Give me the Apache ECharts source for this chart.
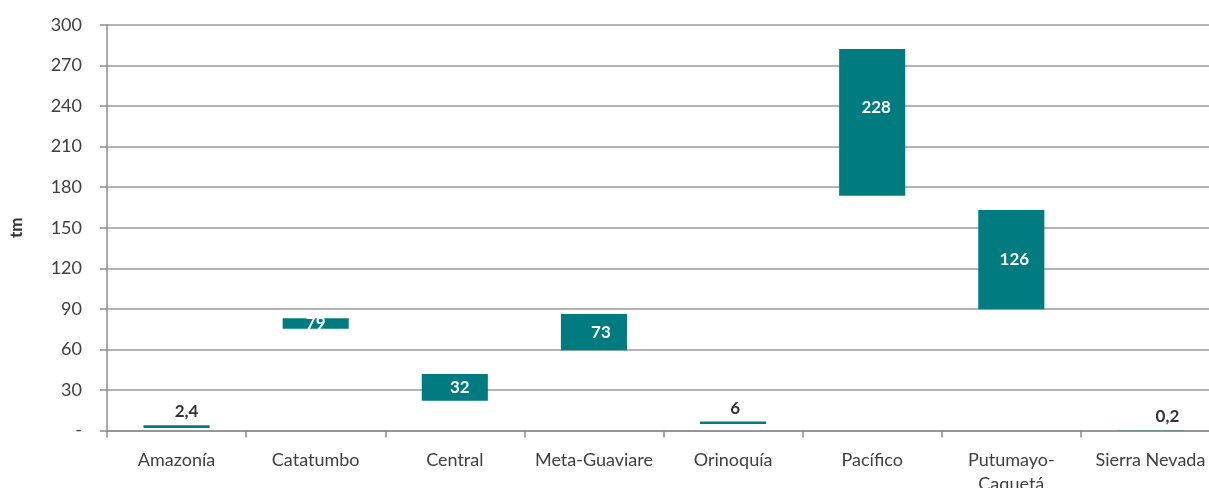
<!DOCTYPE html>
<html>
<head>
<meta charset="utf-8">
<script src="https://cdn.jsdelivr.net/npm/echarts@6/dist/echarts.min.js"></script>
<style>
  html, body { margin: 0; padding: 0; background: #fff; overflow: hidden; }
  #chart { width: 1209px; height: 488px; }
</style>
</head>
<body>
<div id="chart"></div>
<script>
// regiones
var categories = ['Amazonía', 'Catatumbo', 'Central', 'Meta-Guaviare', 'Orinoquía', 'Pacífico', 'Putumayo-\nCaquetá', 'Sierra Nevada'];
// base invisible y tramo visible de cada barra (tm)
var baseValues = [1.8, 75.3, 22, 59.4, 4.8, 173.7, 89.7, 0];
var barValues = [2, 7.7, 19.8, 26.8, 1.8, 108.5, 73.4, 0.2];
// etiquetas de cada barra
var barLabels = ['2,4', '79', '32', '73', '6', '228', '126', '0,2'];
var yTicks = [0, 30, 60, 90, 120, 150, 180, 210, 240, 270, 300];

var FONT = 'Lato, "Open Sans", sans-serif';
var TEAL = '#007B7F';

var chart = echarts.init(document.getElementById('chart'));

// desplazamiento de cada etiqueta, como en el original
var labelShift = [[10, 0], [0, 0], [5, 0], [7, 0], [2, 0], [4, -15], [3, 0], [17, 0]];

// etiquetas: las barras finas llevan texto oscuro encima
var labelData = barValues.map(function (v, i) {
    var item = { value: v, label: { offset: labelShift[i] } };
    if (v < 3) {
        item.label.position = 'top';
        item.label.distance = 5;
        item.label.color = '#333333';
    }
    return item;
});

chart.setOption({
    animation: false,
    grid: {
        left: 107,
        right: -11,
        top: 25,
        bottom: 57.5,
        containLabel: false,
        outerBoundsMode: 'none'
    },
    xAxis: {
        type: 'category',
        data: categories,
        axisLine: { lineStyle: { color: '#8c8c8c', width: 1.5 } },
        axisTick: { show: true, length: 7, lineStyle: { color: '#8c8c8c', width: 1.5 } },
        axisLabel: {
            interval: 0,
            margin: 18,
            fontFamily: FONT,
            fontSize: 18,
            lineHeight: 24,
            color: '#404040'
        }
    },
    yAxis: {
        type: 'value',
        min: yTicks[0],
        max: yTicks[yTicks.length - 1],
        interval: 30,
        name: 'tm',
        nameLocation: 'middle',
        nameGap: 82,
        nameRotate: 90,
        nameTextStyle: { fontFamily: FONT, fontSize: 17, fontWeight: 'bold', color: '#333333' },
        axisLine: { show: true, lineStyle: { color: '#8c8c8c', width: 1.5 } },
        axisTick: { show: true, length: 7, lineStyle: { color: '#8c8c8c', width: 1.5 } },
        axisLabel: {
            margin: 25,
            fontFamily: FONT,
            fontSize: 18,
            color: '#404040',
            formatter: function (v) { return v === 0 ? '-' : String(v); }
        },
        splitLine: { lineStyle: { color: '#9a9a9a', width: 1.5 } }
    },
    series: [
        {
            name: 'base',
            type: 'bar',
            stack: 'total',
            silent: true,
            itemStyle: { color: 'transparent' },
            barWidth: '47.5%',
            data: baseValues
        },
        {
            name: 'tm',
            type: 'bar',
            stack: 'total',
            barWidth: '47.5%',
            itemStyle: { color: TEAL },
            label: {
                show: true,
                position: 'inside',
                fontFamily: FONT,
                fontSize: 17,
                fontWeight: 'bold',
                color: '#ffffff',
                formatter: function (p) { return barLabels[p.dataIndex]; }
            },
            data: labelData
        }
    ]
});
</script>
</body>
</html>
